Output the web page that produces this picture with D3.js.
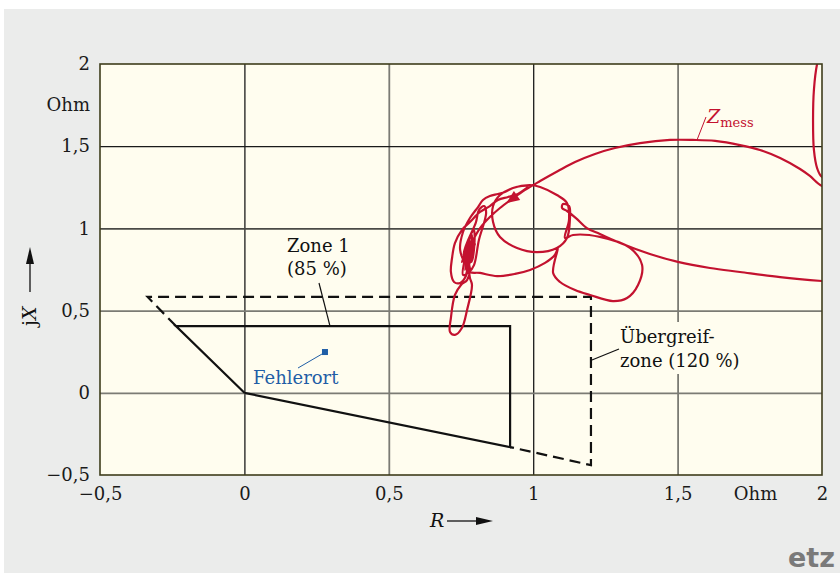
<!DOCTYPE html>
<html>
<head>
<meta charset="utf-8">
<script src="https://cdn.jsdelivr.net/npm/d3@7"></script>
<style>
  html, body { margin: 0; padding: 0; background: #ffffff; }
  svg { display: block; }
</style>
</head>
<body>
<svg id="chart" width="840" height="573"></svg>
<script>
// Axis ticks (Ohm)
const rTicks = [-0.5, 0, 0.5, 1, 1.5, 2];
const xTicks = [-0.5, 0, 0.5, 1, 1.5, 2];

// Zone 1 (85 %) polygon, R/X in Ohm
const zone1R = [0, -0.237, 0.92, 0.92, 0];
const zone1X = [0, 0.406, 0.406, -0.33, 0];

// Overreach zone (120 %) outline beyond zone 1
const zoneUeR = [-0.237, -0.335, 1.2, 1.2, 0.92];
const zoneUeX = [0.406, 0.583, 0.583, -0.44, -0.33];

// Fault location
const faultR = 0.279;
const faultX = 0.248;

// Measured impedance trajectory Z_mess
const zMessR = [
  2.028, 1.983, 1.972, 1.969, 1.972, 1.983, 2.0, 2.08, 2.08,
  2.0, 1.958, 1.924, 1.855, 1.785, 1.716, 1.63, 1.553, 1.474, 1.37, 1.283, 1.214, 1.145, 1.086, 1.024, 0.972, 0.927, 0.885, 0.85, 0.816, 0.792, 0.774, 0.764,
  0.747, 0.757, 0.781, 0.809, 0.826, 0.85, 0.878, 0.902, 0.93, 0.961, 0.982, 0.947, 0.913, 0.878, 0.85, 0.816, 0.781, 0.753, 0.729, 0.719, 0.715, 0.726, 0.747, 0.767, 0.774,
  0.781, 0.788, 0.771, 0.753, 0.729, 0.712, 0.715, 0.729, 0.75, 0.771, 0.781,
  0.767, 0.788, 0.778, 0.771, 0.795, 0.785, 0.76, 0.802, 0.812, 0.83, 0.837, 0.812, 0.795, 0.778,
  0.757, 0.781, 0.764, 0.788, 0.771, 0.795, 0.753, 0.785, 0.767, 0.798, 0.774,
  0.816, 0.875, 0.937, 0.989, 1.041, 1.075, 1.086,
  1.069, 1.093, 1.145, 1.197, 1.276, 1.325, 1.363, 1.377, 1.335, 1.231, 1.138, 1.11,
  1.124, 1.117,
  1.082, 1.024, 0.989, 0.93, 0.885, 0.861, 0.861, 0.885, 0.944, 1.013, 1.082, 1.117, 1.127, 1.124, 1.103, 1.1, 1.117,
  1.148, 1.186, 1.231, 1.301, 1.404, 1.501, 1.612, 1.716, 1.855, 2.0, 2.097
];
const zMessX = [
  2.268, 2.0, 1.842, 1.659, 1.477, 1.367, 1.313, 1.276, 1.234,
  1.258, 1.319, 1.361, 1.428, 1.477, 1.507, 1.532, 1.538, 1.538, 1.519, 1.489, 1.453, 1.404, 1.349, 1.288, 1.234, 1.179, 1.124, 1.069, 1.002, 0.929, 0.856, 0.796,
  0.869, 0.978, 1.063, 1.13, 1.173, 1.197, 1.209, 1.221, 1.246, 1.258, 1.258, 1.209, 1.191, 1.173, 1.136, 1.1, 1.039, 0.99, 0.911, 0.82, 0.735, 0.674, 0.668, 0.71, 0.777,
  0.698, 0.656, 0.504, 0.394, 0.352, 0.37, 0.455, 0.595, 0.656, 0.686, 0.747,
  0.869, 0.96, 0.82, 0.905, 0.99, 0.796, 0.838, 1.039, 1.112, 1.136, 1.094, 0.929, 0.777, 0.735,
  0.717, 0.929, 0.747, 0.899, 0.759, 0.942, 0.796, 0.869, 0.71, 0.905, 0.74,
  0.729, 0.71, 0.723, 0.747, 0.79, 0.838, 0.881,
  0.729, 0.674, 0.625, 0.595, 0.558, 0.577, 0.656, 0.777, 0.881, 0.948, 0.96, 0.942,
  1.051, 1.155,
  1.203, 1.252, 1.264, 1.246, 1.203, 1.136, 1.039, 0.948, 0.881, 0.856, 0.881, 0.942, 1.051, 1.136, 1.148, 1.124, 1.106,
  1.063, 1.002, 0.966, 0.911, 0.844, 0.796, 0.759, 0.735, 0.704, 0.68, 0.668
];
// Index of the trajectory point carrying the direction arrow
const arrowIndex = 25;

const svg = d3.select("#chart");
const W = 840, H = 573;
const plot = { left: 100, right: 822, top: 64, bottom: 475 };

const serif = "'DejaVu Serif', 'Liberation Serif', serif";
const red = "#c3122f";
const blue = "#1f5ea6";

// Backgrounds
svg.append("rect").attr("x", 4).attr("y", 9).attr("width", W - 4).attr("height", H - 9).attr("fill", "#ebeceb");

const x = d3.scaleLinear().domain([-0.5, 2]).range([plot.left, plot.right]);
const y = d3.scaleLinear().domain([-0.5, 2]).range([plot.bottom, plot.top]);

svg.append("rect")
  .attr("x", plot.left).attr("y", plot.top)
  .attr("width", plot.right - plot.left).attr("height", plot.bottom - plot.top)
  .attr("fill", "#fffdef");

svg.append("clipPath").attr("id", "plotClip")
  .append("rect")
  .attr("x", plot.left).attr("y", plot.top)
  .attr("width", plot.right - plot.left).attr("height", plot.bottom - plot.top);

// Grid lines
const gridX = svg.append("g").attr("transform", `translate(0,${plot.bottom})`)
  .call(d3.axisBottom(x).tickValues(rTicks.slice(1, -1)).tickSize(-(plot.bottom - plot.top)).tickFormat(""));
gridX.select(".domain").remove();
gridX.selectAll(".tick line")
  .attr("stroke", d => Number.isInteger(d) ? "#1a1a1a" : "#7b7b74")
  .attr("stroke-width", d => Number.isInteger(d) ? 1.3 : 1.8);

const gridY = svg.append("g").attr("transform", `translate(${plot.left},0)`)
  .call(d3.axisLeft(y).tickValues(xTicks.slice(1, -1)).tickSize(-(plot.right - plot.left)).tickFormat(""));
gridY.select(".domain").remove();
gridY.selectAll(".tick line")
  .attr("stroke", d => d === 1.5 ? "#1a1a1a" : (d === 1 ? "#4a4a46" : "#7b7b74"))
  .attr("stroke-width", d => d === 1.5 ? 1.3 : 1.8);

// Label for overreach zone, with a background that hides the grid
const ueLabel = svg.append("g");
ueLabel.append("rect").attr("x", 616).attr("y", 322).attr("width", 112).attr("height", 52).attr("fill", "#fffdef");

// Zones
const line = d3.line().x(d => x(d[0])).y(d => y(d[1]));
svg.append("path")
  .datum(zoneUeR.map((r, i) => [r, zoneUeX[i]]))
  .attr("d", line)
  .attr("fill", "none").attr("stroke", "#111").attr("stroke-width", 2.2)
  .attr("stroke-dasharray", "11,6");
svg.append("path")
  .datum(zone1R.map((r, i) => [r, zone1X[i]]))
  .attr("d", line)
  .attr("fill", "none").attr("stroke", "#111").attr("stroke-width", 2.2)
  .attr("stroke-linejoin", "miter");

// Measured impedance trajectory
const zPts = zMessR.map((r, i) => [r, zMessX[i]]);
svg.append("path")
  .datum(zPts)
  .attr("clip-path", "url(#plotClip)")
  .attr("d", d3.line().x(d => x(d[0])).y(d => y(d[1])).curve(d3.curveCatmullRom.alpha(0.5)))
  .attr("fill", "none").attr("stroke", red).attr("stroke-width", 2.2)
  .attr("stroke-linejoin", "round");

// Direction arrow on the trajectory
{
  const p0 = zPts[arrowIndex - 1], p1 = zPts[arrowIndex];
  const ang = Math.atan2(y(p1[1]) - y(p0[1]), x(p1[0]) - x(p0[0])) * 180 / Math.PI;
  svg.append("path")
    .attr("d", "M7,0 L-6,-5.5 L-6,5.5 Z")
    .attr("transform", `translate(${x(p1[0])},${y(p1[1])}) rotate(${ang})`)
    .attr("fill", red);
}

// Fault location
svg.append("rect")
  .attr("x", x(faultR) - 3).attr("y", y(faultX) - 3)
  .attr("width", 6).attr("height", 6).attr("fill", blue);
svg.append("line").attr("x1", 298).attr("y1", 368).attr("x2", x(faultR) - 3).attr("y2", y(faultX) + 2)
  .attr("stroke", blue).attr("stroke-width", 1);
svg.append("text").attr("x", 253).attr("y", 384).attr("font-family", serif).attr("font-size", 18)
  .attr("fill", blue).text("Fehlerort");

// Zone 1 label
svg.append("text").attr("x", 287).attr("y", 252).attr("font-family", serif).attr("font-size", 18)
  .attr("fill", "#111").text("Zone 1");
svg.append("text").attr("x", 287).attr("y", 275).attr("font-family", serif).attr("font-size", 18)
  .attr("fill", "#111").text("(85 %)");
svg.append("line").attr("x1", 319).attr("y1", 283).attr("x2", 330).attr("y2", y(zone1X[1]))
  .attr("stroke", "#111").attr("stroke-width", 1.2);

// Overreach zone label
ueLabel.append("text").attr("x", 620).attr("y", 343).attr("font-family", serif).attr("font-size", 18)
  .attr("fill", "#111").text("Übergreif-");
ueLabel.append("text").attr("x", 620).attr("y", 367).attr("font-family", serif).attr("font-size", 18)
  .attr("fill", "#111").text("zone (120 %)");
svg.append("line").attr("x1", x(zoneUeR[2]) + 1).attr("y1", 360).attr("x2", 619).attr("y2", 349)
  .attr("stroke", "#111").attr("stroke-width", 1.2);

// Z_mess label
const zl = svg.append("text").attr("x", 707).attr("y", 123).attr("font-family", serif).attr("fill", red);
zl.append("tspan").attr("font-size", 19).attr("font-style", "italic").text("Z");
zl.append("tspan").attr("font-size", 13).attr("dy", 4).text("mess");
svg.append("line").attr("x1", 697).attr("y1", 140).attr("x2", 706).attr("y2", 117)
  .attr("stroke", red).attr("stroke-width", 1);

// Plot frame
svg.append("rect")
  .attr("x", plot.left).attr("y", plot.top)
  .attr("width", plot.right - plot.left).attr("height", plot.bottom - plot.top)
  .attr("fill", "none").attr("stroke", "#3f3d1c").attr("stroke-width", 1.6);

// Tick labels
const fmt = d => String(d).replace(".", ",").replace("-", "\u2212");

const axB = svg.append("g").attr("transform", `translate(0,${plot.bottom})`)
  .call(d3.axisBottom(x).tickValues(rTicks).tickSize(0).tickPadding(12).tickFormat(fmt));
axB.select(".domain").remove();
axB.selectAll("text").attr("font-family", serif).attr("font-size", 18).attr("fill", "#1a1a1a");

const axL = svg.append("g").attr("transform", `translate(${plot.left},0)`)
  .call(d3.axisLeft(y).tickValues(xTicks).tickSize(0).tickPadding(10).tickFormat(fmt));
axL.select(".domain").remove();
axL.selectAll("text").attr("font-family", serif).attr("font-size", 18).attr("fill", "#1a1a1a");

// Unit labels
svg.append("text").attr("x", x(1.77)).attr("y", 500).attr("text-anchor", "middle")
  .attr("font-family", serif).attr("font-size", 18).attr("fill", "#1a1a1a").text("Ohm");
svg.append("text").attr("x", 90).attr("y", y(1.75)).attr("dy", "0.32em").attr("text-anchor", "end")
  .attr("font-family", serif).attr("font-size", 18).attr("fill", "#1a1a1a").text("Ohm");

// Axis titles with arrows
svg.append("text").attr("x", 430).attr("y", 527).attr("font-family", serif).attr("font-size", 19)
  .attr("font-style", "italic").attr("fill", "#111").text("R");
svg.append("line").attr("x1", 447).attr("y1", 521).attr("x2", 478).attr("y2", 521)
  .attr("stroke", "#111").attr("stroke-width", 1.3);
svg.append("path").attr("d", "M476,517 L493,521 L476,525 Z").attr("fill", "#111");

const yt = svg.append("text").attr("transform", "translate(36,326) rotate(-90)")
  .attr("font-family", serif).attr("font-size", 19).attr("fill", "#111");
yt.append("tspan").text("j");
yt.append("tspan").attr("font-style", "italic").text("X");
svg.append("line").attr("x1", 30).attr("y1", 292).attr("x2", 30).attr("y2", 262)
  .attr("stroke", "#111").attr("stroke-width", 1.3);
svg.append("path").attr("d", "M26,264 L30,247 L34,264 Z").attr("fill", "#111");

// Publisher mark
svg.append("text").attr("x", 835).attr("y", 567).attr("text-anchor", "end")
  .attr("font-family", "'DejaVu Sans', sans-serif").attr("font-weight", "bold").attr("font-size", 27)
  .attr("fill", "#7a7a7a").text("etz");
</script>
</body>
</html>
